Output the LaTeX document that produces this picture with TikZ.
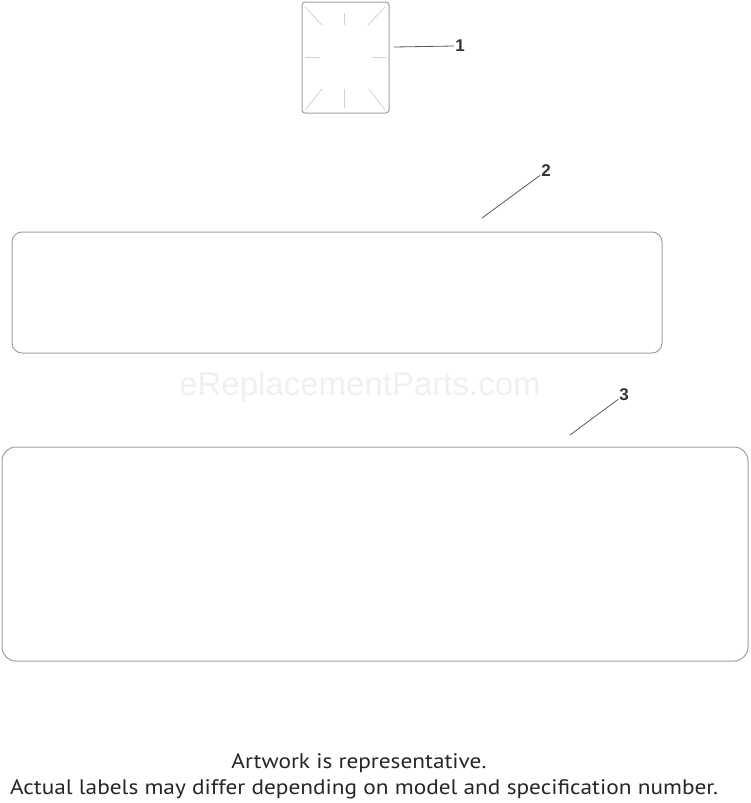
\documentclass[tikz,border=0pt]{standalone}
\usepackage{fontspec}
\setmainfont{PT Sans}
\newfontfamily\labelfont{Liberation Sans}
\newcommand{\widetext}[1]{\scalebox{1.11}[1]{#1}}
\tikzset{
  decal/.style={draw=gray!75, line width=1pt},
  tick/.style={draw=gray!35, line width=0.8pt},
  leader/.style={draw=black!65, line width=0.8pt},
  callout/.style={font=\labelfont\bfseries\fontsize{17}{17}\selectfont, text=black!80, inner sep=1pt},
  note/.style={font=\fontsize{21}{22}\selectfont, text=black!85, anchor=base, inner sep=0pt}
}
\begin{document}
\begin{tikzpicture}[x=1pt, y=-1pt]
    \useasboundingbox (0,0) rectangle (750,803);

    % --- Decal 1 (small label with crop ticks) ---
    \draw[decal, rounded corners=3pt] (302,2) rectangle (389,113);
    \draw[tick] (344.5,13) -- (344.5,25);
    \draw[tick] (344.5,89) -- (344.5,108);
    \draw[tick] (305,57) -- (320,57);
    \draw[tick] (372,57) -- (386,57);
    \draw[tick] (305,7) -- (322,25);
    \draw[tick] (385,7) -- (368,25);
    \draw[tick] (305,110) -- (322,89);
    \draw[tick] (385,110) -- (369,89);

    % --- Decal 2 ---
    \draw[decal, rounded corners=10pt] (12,232) rectangle (662,353);

    % --- Decal 3 ---
    \draw[decal, rounded corners=14pt] (2,447) rectangle (748,661);

    % watermark
    \node[font=\labelfont\fontsize{33}{33}\selectfont, text=gray!12] (wm) at (360,387) {eReplacementParts.com};

    % --- Callouts ---
    \node[callout] (n1) at (460,46) {1};
    \node[callout] (n2) at (546,171) {2};
    \node[callout] (n3) at (624,395) {3};
    \coordinate (c1) at (394,47);
    \coordinate (c2) at (482,218);
    \coordinate (c3) at (570,435);
    \draw[leader] (c1) -- (n1.west);
    \draw[leader] (c2) -- (n2);
    \draw[leader] (c3) -- (n3);

    % Note
    \node[note] (note1) at (359,768) {\widetext{Artwork is representative.}};
    \node[note] (note2) at (364,794) {\widetext{Actual labels may differ depending on model and specification number.}};

\end{tikzpicture}
\end{document}
